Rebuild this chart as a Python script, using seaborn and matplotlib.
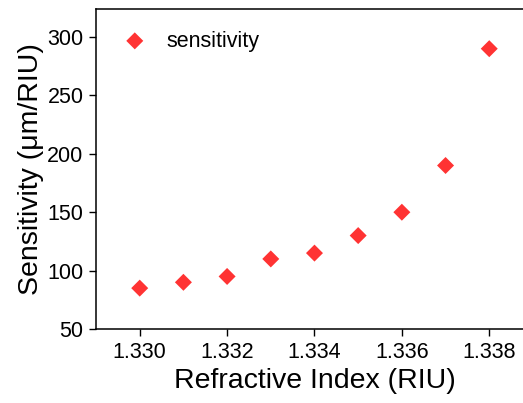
import seaborn as sns
import pandas as pd
import matplotlib
matplotlib.use("Agg")
import matplotlib.pyplot as plt

# values
refractive_index = [1.330, 1.331, 1.332, 1.333, 1.334, 1.335, 1.336, 1.337, 1.338]
sensitivity = [85, 90, 95, 110, 115, 130, 150, 190, 290]
x_ticks = [1.330, 1.332, 1.334, 1.336, 1.338]
y_ticks = [50, 100, 150, 200, 250, 300]

df = pd.DataFrame({"ri": refractive_index, "sens": sensitivity})

sns.set_style("ticks")
plt.rcParams["font.family"] = ["Liberation Sans", "DejaVu Sans"]
plt.rcParams["text.color"] = "black"
plt.rcParams["axes.labelcolor"] = "black"
plt.rcParams["xtick.color"] = "black"
plt.rcParams["ytick.color"] = "black"

fig = plt.figure(figsize=(5.23, 4.03), dpi=100)
ax = fig.add_axes([0.1836, 0.1836, 1.019 - 0.1836, 0.9777 - 0.1836])

sns.scatterplot(data=df, x="ri", y="sens", ax=ax, marker="D", s=75,
                color="#ff3333", edgecolor="none", label="sensitivity")

ax.set_xlim(1.329, 1.339)
ax.set_ylim(50, 324)
ax.set_xticks(x_ticks)
ax.set_xticklabels([f"{t:.3f}" for t in x_ticks])
ax.set_yticks(y_ticks)
ax.tick_params(direction="out", length=5, width=1, labelsize=15.5, pad=4)
for sp in ax.spines.values():
    sp.set_linewidth(1.1)
    sp.set_color("black")

ax.set_xlabel("Refractive Index (RIU)", fontsize=20.5, labelpad=4)
ax.set_ylabel("Sensitivity (\u03bcm/RIU)", fontsize=20.5, labelpad=2)

# legend sits in the top-left corner, no frame
leg = ax.legend(loc="upper left", frameon=False, fontsize=15.5, handletextpad=0.65,
                borderaxespad=0.55, handlelength=1.6, borderpad=0.45)

fig.savefig("out.png", dpi=100)
